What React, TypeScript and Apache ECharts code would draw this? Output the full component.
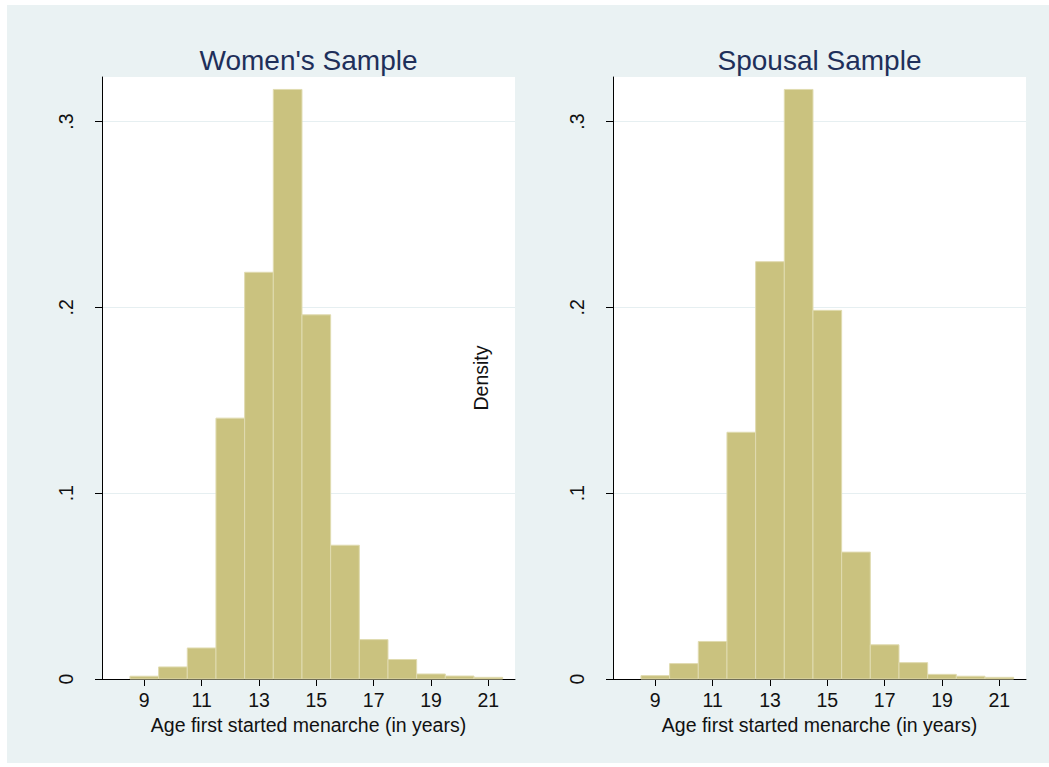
import React, { useEffect, useRef } from "react";
import * as echarts from "echarts";

const ages = [9, 10, 11, 12, 13, 14, 15, 16, 17, 18, 19, 20, 21];
const womenDensity = [0.0015, 0.0065, 0.0167, 0.1404, 0.2189, 0.3173, 0.196, 0.072, 0.0212, 0.0105, 0.0027, 0.0016, 0.0009];
const spousalDensity = [0.0018, 0.0083, 0.0202, 0.1328, 0.2246, 0.3173, 0.1984, 0.0683, 0.0184, 0.0088, 0.0025, 0.0015, 0.0009];
const xTickValues = [9, 11, 13, 15, 17, 19, 21];
const panelTitles = ["Women's Sample", "Spousal Sample"];
const xAxisTitle = "Age first started menarche (in years)";
const yAxisTitle = "Density";

const FONT = "'Liberation Sans', Arial, Helvetica, sans-serif";
const AXIS_FONT_SIZE = 19.5;
const BAR_FILL = "#cac27f";
const BAR_STROKE = "#e0dbb0";

export default function App() {
  const ref = useRef<HTMLDivElement>(null);
  useEffect(() => {
    if (!ref.current) return;
    const chart = echarts.init(ref.current, undefined, { renderer: "svg" });

    const grids = [
      { left: 95, top: 72, width: 413, height: 602 },
      { left: 606, top: 72, width: 413, height: 602 },
    ];

    const makeX = (i: number) => ({
      type: "value",
      gridIndex: i,
      min: 7.525,
      max: 21.93,
      axisLine: { show: true, onZero: false, lineStyle: { color: "#000", width: 1 } },
      axisTick: { show: true, length: 7, customValues: xTickValues, lineStyle: { color: "#000" } },
      axisLabel: { customValues: xTickValues, color: "#111", fontFamily: FONT, fontSize: AXIS_FONT_SIZE, margin: 11 },
      splitLine: { show: false },
      name: xAxisTitle,
      nameLocation: "middle",
      nameGap: 33,
      nameTextStyle: { color: "#111", fontFamily: FONT, fontSize: AXIS_FONT_SIZE },
    });

    const makeY = (i: number) => ({
      type: "value",
      gridIndex: i,
      min: 0,
      max: 0.324,
      interval: 0.1,
      axisLine: { show: true, onZero: false, lineStyle: { color: "#000", width: 1 } },
      axisTick: { show: true, length: 7, lineStyle: { color: "#000" } },
      axisLabel: {
        rotate: 90,
        showMaxLabel: false,
        color: "#111",
        fontFamily: FONT,
        fontSize: AXIS_FONT_SIZE,
        margin: 26,
        formatter: (v: number) => (v === 0 ? "0" : v.toFixed(1).replace(/^0/, "")),
      },
      splitLine: { show: true, showMinLine: false, showMaxLine: false, lineStyle: { color: "#e6eff1", width: 1 } },
      ...(i === 1
        ? {
            name: yAxisTitle,
            nameLocation: "middle",
            nameGap: 122,
            nameRotate: 90,
            nameTextStyle: { color: "#111", fontFamily: FONT, fontSize: AXIS_FONT_SIZE },
          }
        : {}),
    });

    const renderItem = (params: any, api: any) => {
      const x = api.value(0);
      const y = api.value(1);
      const p1 = api.coord([x - 0.5, y]);
      const p2 = api.coord([x + 0.5, 0]);
      return {
        type: "rect",
        shape: { x: p1[0], y: p1[1], width: p2[0] - p1[0], height: p2[1] - p1[1] },
        style: { fill: BAR_FILL, stroke: BAR_STROKE, lineWidth: 1 },
      };
    };

    const seriesData = [womenDensity, spousalDensity].map((arr) => ages.map((a, k) => [a, arr[k]]));

    chart.setOption({
      animation: false,
      backgroundColor: "#eaf2f3",
      grid: grids.map((g) => ({ ...g, show: true, backgroundColor: "#ffffff", borderWidth: 0 })),
      xAxis: [makeX(0), makeX(1)],
      yAxis: [makeY(0), makeY(1)],
      graphic: panelTitles.map((t, i) => ({
        type: "text",
        x: grids[i].left + grids[i].width / 2,
        y: 55,
        style: {
          text: t,
          fill: "#1e2f5a",
          font: `28px ${FONT}`,
          textAlign: "center",
          textVerticalAlign: "middle",
        },
      })),
      series: seriesData.map((d, i) => ({
        type: "custom",
        xAxisIndex: i,
        yAxisIndex: i,
        renderItem,
        encode: { x: 0, y: 1 },
        data: d,
      })),
    });
    return () => chart.dispose();
  }, []);

  return (
    <div
      ref={ref}
      style={{ position: "absolute", left: 7, top: 5, width: 1042, height: 758 }}
    />
  );
}
